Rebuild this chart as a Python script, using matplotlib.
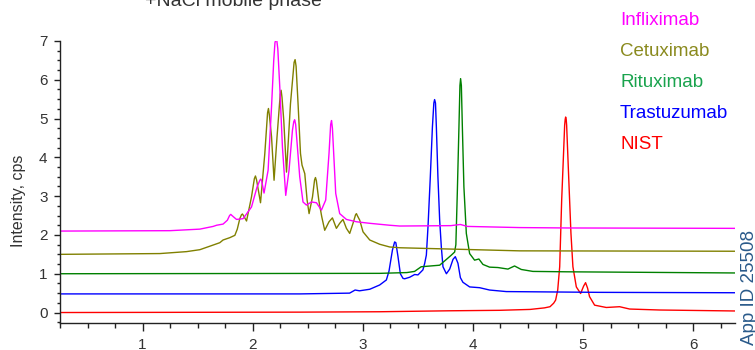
import matplotlib
matplotlib.use("Agg")
import matplotlib.pyplot as plt
from matplotlib.ticker import MultipleLocator

plt.rcParams['font.family'] = ['Liberation Sans', 'DejaVu Sans']

# ---------------- data ----------------
series_names = ["Infliximab", "Cetuximab", "Rituximab", "Trastuzumab", "NIST"]

infliximab_t = [0.25, 1.248, 1.520, 1.641, 1.672, 1.731, 1.770, 1.790, 1.801, 1.812, 1.853,
                1.913, 1.989, 2.040, 2.065, 2.073, 2.081, 2.103, 2.140, 2.171, 2.191, 2.202,
                2.215, 2.228, 2.246, 2.270, 2.300, 2.330, 2.361, 2.373, 2.381, 2.390, 2.427,
                2.457, 2.488, 2.534, 2.579, 2.624, 2.663, 2.693, 2.708, 2.716, 2.724, 2.754,
                2.790, 2.851, 2.942, 3.063, 3.244, 3.335, 3.800, 3.886, 3.950, 4.424, 4.850,
                6.38]
infliximab_i = [2.10, 2.11, 2.15, 2.22, 2.25, 2.28, 2.38, 2.50, 2.53, 2.50, 2.40,
                2.42, 2.72, 3.24, 3.41, 3.44, 3.40, 3.08, 3.67, 5.30, 6.50, 6.95,
                7.10, 6.80, 5.81, 4.27, 3.02, 3.67, 4.70, 4.92, 4.97, 4.85, 3.50,
                2.85, 2.77, 2.85, 2.83, 2.64, 2.90, 4.10, 4.85, 4.95, 4.75, 3.07,
                2.55, 2.40, 2.34, 2.30, 2.25, 2.23, 2.24, 2.27, 2.22, 2.19, 2.18,
                2.17]

cetuximab_t = [0.25, 1.157, 1.399, 1.520, 1.641, 1.701, 1.731, 1.792, 1.838, 1.860, 1.883,
               1.898, 1.907, 1.916, 1.944, 1.989, 2.015, 2.025, 2.035, 2.071, 2.110, 2.135,
               2.143, 2.151, 2.171, 2.194, 2.221, 2.250, 2.258, 2.266, 2.282, 2.307, 2.343,
               2.376, 2.385, 2.394, 2.412, 2.434, 2.448, 2.473, 2.494, 2.512, 2.543, 2.562,
               2.570, 2.578, 2.600, 2.627, 2.654, 2.693, 2.724, 2.760, 2.790, 2.820, 2.851,
               2.881, 2.911, 2.934, 2.942, 2.950, 2.972, 3.002, 3.063, 3.153, 3.244, 3.335,
               4.424, 6.38]
cetuximab_i = [1.50, 1.52, 1.57, 1.62, 1.74, 1.80, 1.87, 1.93, 1.99, 2.15, 2.42,
               2.52, 2.54, 2.50, 2.36, 2.98, 3.45, 3.52, 3.42, 2.83, 4.10, 5.15,
               5.26, 5.10, 4.53, 3.41, 4.53, 5.62, 5.73, 5.55, 4.96, 3.62, 5.38,
               6.45, 6.52, 6.35, 5.38, 4.10, 3.80, 3.58, 2.90, 2.55, 2.98, 3.42,
               3.48, 3.40, 2.90, 2.47, 2.12, 2.34, 2.44, 2.17, 2.30, 2.40, 2.17,
               2.04, 2.30, 2.52, 2.55, 2.50, 2.38, 2.08, 1.87, 1.76, 1.69, 1.67,
               1.59, 1.58]

rituximab_t = [0.25, 3.153, 3.400, 3.470, 3.530, 3.698, 3.743, 3.804, 3.834, 3.845, 3.858,
               3.873, 3.882, 3.888, 3.895, 3.904, 3.918, 3.940, 3.970, 4.015, 4.054, 4.091,
               4.151, 4.227, 4.318, 4.378, 4.439, 4.544, 4.848, 6.38]
rituximab_i = [1.00, 1.01, 1.03, 1.06, 1.18, 1.22, 1.33, 1.48, 1.56, 1.75, 3.07,
               4.78, 5.85, 6.03, 5.85, 4.78, 3.24, 2.04, 1.52, 1.35, 1.38, 1.24,
               1.17, 1.16, 1.12, 1.20, 1.11, 1.06, 1.05, 1.02]

trastuzumab_t = [0.25, 2.430, 2.880, 2.930, 2.970, 3.063, 3.153, 3.214, 3.238, 3.269, 3.289,
                 3.300, 3.319, 3.341, 3.365, 3.380, 3.426, 3.471, 3.501, 3.546, 3.562, 3.577,
                 3.592, 3.613, 3.632, 3.645, 3.652, 3.660, 3.668, 3.682, 3.698, 3.713, 3.728,
                 3.759, 3.789, 3.819, 3.840, 3.864, 3.886, 3.909, 3.970, 4.061, 4.151, 4.303,
                 5.152, 6.38]
trastuzumab_i = [0.48, 0.48, 0.50, 0.58, 0.56, 0.60, 0.71, 0.84, 1.07, 1.61, 1.82,
                 1.80, 1.45, 1.00, 0.88, 0.87, 0.91, 0.98, 0.97, 1.10, 1.27, 1.48,
                 2.21, 3.50, 4.78, 5.40, 5.49, 5.40, 4.78, 3.50, 2.38, 1.69, 1.18,
                 1.00, 1.12, 1.37, 1.44, 1.27, 0.90, 0.78, 0.66, 0.64, 0.58, 0.54,
                 0.52, 0.51]

nist_t = [0.25, 2.43, 3.15, 3.79, 4.24, 4.52, 4.65, 4.70, 4.733, 4.751, 4.770, 4.788, 4.806,
          4.818, 4.833, 4.838, 4.842, 4.847, 4.851, 4.866, 4.890, 4.908, 4.939, 4.978, 5.005,
          5.023, 5.041, 5.059, 5.105, 5.211, 5.332, 5.423, 5.695, 6.38]
nist_i = [0.00, 0.01, 0.02, 0.045, 0.057, 0.08, 0.12, 0.15, 0.24, 0.32, 0.58, 1.18, 2.90,
          3.75, 4.83, 4.98, 5.04, 4.98, 4.83, 3.75, 2.05, 1.18, 0.66, 0.49, 0.68,
          0.77, 0.63, 0.41, 0.19, 0.13, 0.15, 0.09, 0.065, 0.04]

line_colors = ["#ff00ff", "#808000", "#008000", "#0000ff", "#ff0000"]
label_colors = ["#ff00ff", "#8a8a1e", "#19a34d", "#0000ff", "#ff0000"]

x_ticks = [1, 2, 3, 4, 5, 6]
y_ticks = [0, 1, 2, 3, 4, 5, 6, 7]

# ---------------- figure ----------------
fig = plt.figure(figsize=(7.55, 3.5), dpi=100)
ax = fig.add_axes([60 / 755, 27 / 350, 675 / 755, 282 / 350])

all_t = [infliximab_t, cetuximab_t, rituximab_t, trastuzumab_t, nist_t]
all_i = [infliximab_i, cetuximab_i, rituximab_i, trastuzumab_i, nist_i]
for t, i, c in zip(reversed(all_t), reversed(all_i), reversed(line_colors)):
    ax.plot(t, i, color=c, lw=1.0, solid_joinstyle='round')

ax.set_xlim(0.25, 6.38)
ax.set_ylim(-0.27, 7.0)
ax.set_xticks(x_ticks)
ax.set_yticks(y_ticks)
ax.xaxis.set_minor_locator(MultipleLocator(0.25))
ax.yaxis.set_minor_locator(MultipleLocator(0.25))

for side in ("top", "right"):
    ax.spines[side].set_visible(False)
for side in ("left", "bottom"):
    ax.spines[side].set_color("#222222")
    ax.spines[side].set_linewidth(1.0)

ax.tick_params(axis='x', which='major', length=5.5, width=1.0, pad=5,
               labelsize=11, colors="#222222", labelcolor="#333333")
ax.tick_params(axis='x', which='minor', length=3.5, width=1.0, colors="#222222")
ax.tick_params(axis='y', which='major', length=4, width=1.0, pad=5,
               labelsize=11, colors="#222222", labelcolor="#333333")
ax.tick_params(axis='y', which='minor', length=2, width=1.0, colors="#222222")

fig.text(19 / 755, 1 - 201 / 350, "Intensity, cps", rotation=90, ha='center', va='center',
         fontsize=11.5, color="#333333")

fig.text(233 / 755, 1 - 6 / 350, "+NaCl mobile phase", ha='center', va='baseline',
         fontsize=14, color="#333333")

legend_y = [20.7, 51.7, 82.3, 113.3, 144.0]
for name, c, yy in zip(series_names, label_colors, legend_y):
    fig.text(620 / 755, 1 - yy / 350, name, ha='left', va='center', fontsize=13.5, color=c)

fig.text(749 / 755, 1 - 345 / 350, "App ID 25508", rotation=90, ha='center', va='bottom',
         fontsize=13.5, color="#2a5a8a")

fig.savefig("out.png", dpi=100)
